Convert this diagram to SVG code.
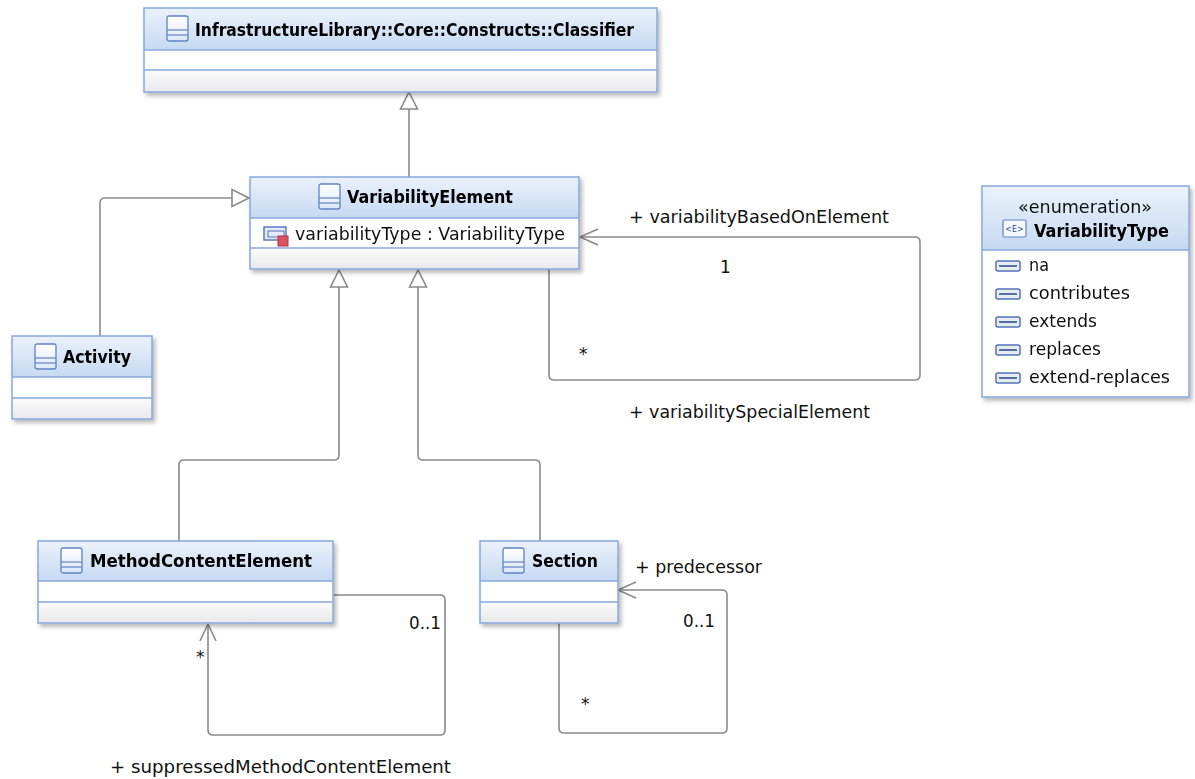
<svg xmlns="http://www.w3.org/2000/svg" width="1195" height="779" viewBox="0 0 1195 779">
<style>
.box{stroke:#86a8dc;stroke-width:1.5}
.hdr{fill:url(#hg)}
.mid{fill:#ffffff}
.low{fill:url(#lg)}
.div{stroke:#86a8dc;stroke-width:1.5}
.title{font-family:"DejaVu Sans","Liberation Sans",sans-serif;font-weight:bold;font-size:17px;fill:#000}
.txt{font-family:"DejaVu Sans","Liberation Sans",sans-serif;font-size:17px;fill:#111}
.edge{fill:none;stroke:#8a8a8a;stroke-width:1.6}
.tri{fill:#fff;stroke:#8a8a8a;stroke-width:1.6}
.ico{fill:url(#ig);stroke:#5f83c4;stroke-width:1.3}
.icl{stroke:#5f83c4;stroke-width:1.2}
.lit{fill:#e4ecf8;stroke:#4f73b4;stroke-width:1.5}
</style>
<defs>
<linearGradient id="hg" x1="0" y1="0" x2="0" y2="1"><stop offset="0" stop-color="#ebf2fc"/><stop offset="1" stop-color="#c6d9f2"/></linearGradient>
<linearGradient id="lg" x1="0" y1="0" x2="0" y2="1"><stop offset="0" stop-color="#fbfbfb"/><stop offset="1" stop-color="#e9e9ec"/></linearGradient>
<linearGradient id="ig" x1="0" y1="0" x2="0" y2="1"><stop offset="0" stop-color="#ffffff"/><stop offset="1" stop-color="#dce7f7"/></linearGradient>
<filter id="sh" x="-5%" y="-5%" width="115%" height="125%"><feDropShadow dx="2.5" dy="3" stdDeviation="2" flood-color="#000" flood-opacity="0.28"/></filter>
<g id="cls"><rect x="0" y="0" width="21" height="25" rx="2" class="ico"/><line x1="0" y1="14" x2="21" y2="14" class="icl"/><line x1="0" y1="19" x2="21" y2="19" class="icl"/></g>
<g id="lit"><rect x="0" y="0" width="24" height="10" rx="2" class="lit"/><line x1="3" y1="5" x2="21" y2="5" stroke="#2f4f8f" stroke-width="1.6"/></g>
</defs>
<rect width="1195" height="779" fill="#fff"/>

<g id="connectors">
<path class="edge" d="M409,177 V109"/>
<polygon class="tri" points="409,92 400.5,109 417.5,109"/>
<path class="edge" d="M100,336 V203 Q100,198 105,198 H232"/>
<polygon class="tri" points="249,198 232,189.5 232,206.5"/>
<path class="edge" d="M179,541 V465 Q179,460 184,460 H334 Q339,460 339,455 V287"/>
<polygon class="tri" points="339,270 330.5,287 347.5,287"/>
<path class="edge" d="M540,541 V465 Q540,460 535,460 H423 Q418,460 418,455 V287"/>
<polygon class="tri" points="418,270 409.5,287 426.5,287"/>
<path class="edge" d="M549,269 V375 Q549,380 554,380 H915 Q920,380 920,375 V242 Q920,237 915,237 H580"/>
<path class="edge" d="M598,229 L580,237 L598,245"/>
<path class="edge" d="M333,595 H440 Q445,595 445,600 V730 Q445,735 440,735 H213 Q208,735 208,730 V624"/>
<path class="edge" d="M200,641 L208,624 L216,641"/>
<path class="edge" d="M618,590 H722 Q727,590 727,595 V728 Q727,733 722,733 H564 Q559,733 559,728 V623"/>
<path class="edge" d="M636,582 L618,590 L636,598"/>
</g>

<g id="labels">
<text class="txt" x="629" y="223" textLength="260" lengthAdjust="spacingAndGlyphs">+ variabilityBasedOnElement</text>
<text class="txt" x="720" y="273">1</text>
<text class="txt" x="579" y="360">*</text>
<text class="txt" x="629" y="418" textLength="241" lengthAdjust="spacingAndGlyphs">+ variabilitySpecialElement</text>
<text class="txt" x="409" y="629" textLength="32" lengthAdjust="spacingAndGlyphs">0..1</text>
<text class="txt" x="196" y="663">*</text>
<text class="txt" x="110" y="773" textLength="341" lengthAdjust="spacingAndGlyphs">+ suppressedMethodContentElement</text>
<text class="txt" x="635" y="573" textLength="127" lengthAdjust="spacingAndGlyphs">+ predecessor</text>
<text class="txt" x="683" y="627" textLength="32" lengthAdjust="spacingAndGlyphs">0..1</text>
<text class="txt" x="581" y="710">*</text>
</g>

<g id="Classifier" filter="url(#sh)">
<rect x="144" y="8" width="513" height="42" class="hdr"/>
<rect x="144" y="50" width="513" height="20" class="mid"/>
<rect x="144" y="70" width="513" height="22" class="low"/>
<rect x="144" y="8" width="513" height="84" fill="none" class="box"/>
<line x1="144" y1="50" x2="657" y2="50" class="div"/>
<line x1="144" y1="70" x2="657" y2="70" class="div"/>
<use href="#cls" x="167" y="16"/>
<text class="title" x="195" y="36" textLength="439" lengthAdjust="spacingAndGlyphs">InfrastructureLibrary::Core::Constructs::Classifier</text>
</g>

<g id="VariabilityElement" filter="url(#sh)">
<rect x="250" y="177" width="329" height="41" class="hdr"/>
<rect x="250" y="218" width="329" height="30" class="mid"/>
<rect x="250" y="248" width="329" height="21" class="low"/>
<rect x="250" y="177" width="329" height="92" fill="none" class="box"/>
<line x1="250" y1="218" x2="579" y2="218" class="div"/>
<line x1="250" y1="248" x2="579" y2="248" class="div"/>
<use href="#cls" x="319" y="184"/>
<text class="title" x="347" y="203" textLength="166" lengthAdjust="spacingAndGlyphs">VariabilityElement</text>
<rect x="264" y="227" width="22" height="13" fill="#e4ecf8" stroke="#4f73b4" stroke-width="1.4"/>
<rect x="268" y="231" width="16" height="6" fill="none" stroke="#4f73b4" stroke-width="1"/>
<rect x="278" y="236" width="10" height="10" fill="#d9525f" stroke="#b43040" stroke-width="1"/>
<text class="txt" x="295" y="240" textLength="270" lengthAdjust="spacingAndGlyphs">variabilityType : VariabilityType</text>
</g>

<g id="Activity" filter="url(#sh)">
<rect x="12" y="336" width="140" height="41" class="hdr"/>
<rect x="12" y="377" width="140" height="21" class="mid"/>
<rect x="12" y="398" width="140" height="21" class="low"/>
<rect x="12" y="336" width="140" height="83" fill="none" class="box"/>
<line x1="12" y1="377" x2="152" y2="377" class="div"/>
<line x1="12" y1="398" x2="152" y2="398" class="div"/>
<use href="#cls" x="35" y="344"/>
<text class="title" x="63" y="363" textLength="68" lengthAdjust="spacingAndGlyphs">Activity</text>
</g>

<g id="MethodContentElement" filter="url(#sh)">
<rect x="38" y="541" width="295" height="40" class="hdr"/>
<rect x="38" y="581" width="295" height="21" class="mid"/>
<rect x="38" y="602" width="295" height="21" class="low"/>
<rect x="38" y="541" width="295" height="82" fill="none" class="box"/>
<line x1="38" y1="581" x2="333" y2="581" class="div"/>
<line x1="38" y1="602" x2="333" y2="602" class="div"/>
<use href="#cls" x="61" y="548"/>
<text class="title" x="90" y="567" textLength="222" lengthAdjust="spacingAndGlyphs">MethodContentElement</text>
</g>

<g id="Section" filter="url(#sh)">
<rect x="480" y="541" width="138" height="40" class="hdr"/>
<rect x="480" y="581" width="138" height="21" class="mid"/>
<rect x="480" y="602" width="138" height="21" class="low"/>
<rect x="480" y="541" width="138" height="82" fill="none" class="box"/>
<line x1="480" y1="581" x2="618" y2="581" class="div"/>
<line x1="480" y1="602" x2="618" y2="602" class="div"/>
<use href="#cls" x="503" y="548"/>
<text class="title" x="532" y="567" textLength="66" lengthAdjust="spacingAndGlyphs">Section</text>
</g>

<g id="VariabilityType" filter="url(#sh)">
<rect x="982" y="186" width="207" height="64" class="hdr"/>
<rect x="982" y="250" width="207" height="147" class="mid"/>
<rect x="982" y="186" width="207" height="211" fill="none" class="box"/>
<line x1="982" y1="250" x2="1189" y2="250" class="div"/>
<text class="txt" x="1018" y="213" textLength="134" lengthAdjust="spacingAndGlyphs">«enumeration»</text>
<rect x="1003" y="220" width="23" height="17" rx="1.5" fill="#f4f7fc" stroke="#5f83c4" stroke-width="1.2"/>
<text x="1014.5" y="232" text-anchor="middle" font-family="DejaVu Sans, sans-serif" font-size="8" fill="#2a4a8a">&lt;E&gt;</text>
<text class="title" x="1034" y="237" textLength="135" lengthAdjust="spacingAndGlyphs">VariabilityType</text>
<use href="#lit" x="996" y="261"/>
<text class="txt" x="1029" y="271" textLength="20" lengthAdjust="spacingAndGlyphs">na</text>
<use href="#lit" x="996" y="289"/>
<text class="txt" x="1029" y="299" textLength="101" lengthAdjust="spacingAndGlyphs">contributes</text>
<use href="#lit" x="996" y="317"/>
<text class="txt" x="1029" y="327" textLength="68" lengthAdjust="spacingAndGlyphs">extends</text>
<use href="#lit" x="996" y="345"/>
<text class="txt" x="1029" y="355" textLength="72" lengthAdjust="spacingAndGlyphs">replaces</text>
<use href="#lit" x="996" y="373"/>
<text class="txt" x="1029" y="383" textLength="141" lengthAdjust="spacingAndGlyphs">extend-replaces</text>
</g>
</svg>
